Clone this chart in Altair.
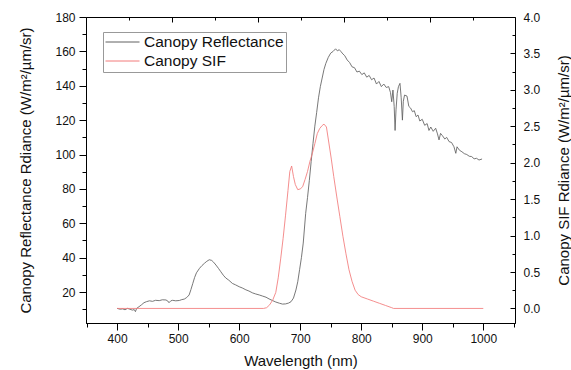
import altair as alt
import pandas as pd

# ---------------- data ----------------
refl_nm = [400, 405, 409, 413, 417, 421, 425, 428, 430, 432, 436, 440, 444, 448, 453, 458, 463, 469, 474, 480,
           483, 485, 488, 491, 496, 502, 506, 510, 514, 518, 521, 524, 527, 530, 535, 539, 543, 547, 551, 555,
           558, 562, 566, 570, 574, 578, 583, 589, 594, 600, 605, 611, 616, 622, 627, 633, 638, 644, 649, 655,
           660, 666, 671, 676, 681, 685, 689, 693, 696, 699, 702, 705, 709, 712, 715, 718, 721, 724, 727, 730,
           733, 736, 739, 742, 746, 750, 754, 758, 761, 764, 767, 770, 773, 777, 781, 785, 789, 793, 797, 801,
           805, 809, 813, 817, 821, 825, 829, 833, 837, 841, 845, 848, 850, 852, 854, 855.5, 857, 859, 861, 863.5,
           865.5, 867.5, 869, 871, 875, 878, 881, 884, 887, 890, 893, 896, 900, 904, 908, 911, 914, 918, 922, 925,
           927.5, 930, 933, 937, 940, 944, 948, 952, 955, 957, 961, 965, 969, 973, 977, 981, 985, 989, 993, 998]
refl_val = [10.5, 10.0, 10.2, 9.7, 10.5, 10.0, 9.5, 9.8, 8.6, 10.5, 11.5, 12.6, 13.8, 14.4, 14.9, 14.6, 15.2, 15.0, 15.5, 15.4,
            14.8, 13.8, 14.9, 15.2, 14.9, 15.1, 15.6, 15.9, 16.8, 18.3, 21.5, 25.0, 28.5, 31.2, 33.8, 35.4, 36.7, 37.9, 38.8, 38.4,
            37.4, 35.7, 33.8, 31.8, 29.8, 28.2, 26.9, 25.0, 24.2, 23.1, 22.4, 21.3, 20.6, 19.5, 18.9, 18.3, 17.7, 17.0, 16.0, 15.0,
            14.2, 13.5, 13.0, 13.1, 13.6, 14.4, 16.5, 21.2, 26.0, 33.0, 40.0, 48.5, 65.8, 75.0, 85.0, 96.0, 106.5, 116.5, 124.5, 133.0,
            139.5, 144.5, 149.5, 153.0, 156.5, 159.0, 160.0, 161.5, 160.3, 161.0, 159.8, 158.5, 157.5, 155.0, 153.5, 151.0, 150.5, 148.0, 148.5, 146.5,
            147.5, 145.0, 146.0, 143.5, 144.5, 141.0, 142.5, 139.5, 141.0, 139.0, 139.5, 136.0, 130.7, 137.5, 128.0, 114.0, 126.0, 135.6, 139.5, 141.4,
            133.0, 120.0, 131.0, 134.6, 134.0, 128.0, 127.0, 124.9, 125.5, 122.0, 123.0, 119.5, 120.5, 117.0, 118.0, 114.0, 116.0, 113.5, 115.3, 112.0,
            108.5, 112.3, 111.0, 109.0, 110.0, 107.5, 107.0, 104.5, 100.7, 104.5, 102.5, 101.6, 100.5, 100.0, 99.0, 98.8, 97.5, 97.8, 96.8, 97.4]

sif_nm = [400, 640, 645, 650, 655, 660, 664, 668, 672, 676, 680, 683, 686, 689, 692, 696, 700, 704, 708, 712,
          716, 720, 724, 728, 732, 736, 739, 743, 747, 751, 755, 760, 765, 770, 775, 780, 785, 790, 795, 800,
          810, 820, 830, 840, 850, 853, 1000]
sif_val = [0.0, 0.0, 0.01, 0.05, 0.115, 0.22, 0.42, 0.68, 0.96, 1.28, 1.62, 1.88, 1.955, 1.81, 1.70, 1.63, 1.64, 1.67, 1.77, 1.88,
           2.02, 2.13, 2.26, 2.40, 2.47, 2.51, 2.53, 2.49, 2.27, 2.05, 1.81, 1.53, 1.26, 0.99, 0.75, 0.53, 0.37, 0.25, 0.19, 0.16,
           0.13, 0.10, 0.07, 0.04, 0.01, 0.0, 0.0]

series_names = ["Canopy Reflectance", "Canopy SIF"]
series_colors = ["#606060", "#f27a7a"]

x_major = [400, 500, 600, 700, 800, 900, 1000]
x_minor = [350, 450, 550, 650, 750, 850, 950, 1050]
top_major = [490.4, 631.2, 772, 912.8]
top_minor = [420, 560.8, 701.6, 842.4, 983.2]
left_major = [20, 40, 60, 80, 100, 120, 140, 160, 180]
left_minor = [10, 30, 50, 70, 90, 110, 130, 150, 170]
right_major = [0.0, 0.5, 1.0, 1.5, 2.0, 2.5, 3.0, 3.5, 4.0]
right_minor = [0.25, 0.75, 1.25, 1.75, 2.25, 2.75, 3.25, 3.75]

refl = pd.DataFrame({"nm": refl_nm, "v": refl_val, "series": series_names[0]})
sif = pd.DataFrame({"nm": sif_nm, "v": sif_val, "series": series_names[1]})

FONT = "Liberation Sans"
W, H = 429, 306

xs = alt.Scale(domain=[349, 1052], nice=False, zero=False)
ls = alt.Scale(domain=[2, 180], nice=False, zero=False)
rs = alt.Scale(domain=[-0.2, 4.0], nice=False, zero=False)

color = alt.Color(
    "series:N",
    scale=alt.Scale(domain=series_names, range=series_colors),
    legend=alt.Legend(
        orient="none", legendX=17, legendY=15, title=None,
        symbolType="stroke", symbolSize=1156, symbolStrokeWidth=1,
        clipHeight=16, rowPadding=2, padding=2, labelOffset=4,
        labelFont=FONT, labelFontSize=15.5, labelColor="#111",
        strokeColor="#999", fillColor="white",
    ),
)

base_axis = dict(domainColor="#000", tickColor="#000", labelFont=FONT, labelColor="#111",
                 titleFont=FONT, titleColor="#111", titleFontWeight="normal", grid=False)

# Layer 1: reflectance line, bottom major axis + left major axis
l1 = alt.Chart(refl).mark_line(strokeWidth=0.85).encode(
    x=alt.X("nm:Q", scale=xs, axis=alt.Axis(
        orient="bottom", values=x_major, format="d", tickSize=7, labelFontSize=12, labelPadding=3,
        title="Wavelength (nm)", titleFontSize=15, titleX=W / 2, titleY=37,
        titleAlign="center", titleBaseline="middle", **base_axis)),
    y=alt.Y("v:Q", scale=ls, axis=alt.Axis(
        orient="left", values=left_major, format="d", tickSize=7, labelFontSize=12, labelPadding=4,
        title="Canopy Reflectance Rdiance (W/m²/µm/sr)", titleFontSize=15,
        titleX=-61, titleY=H / 2, titleAngle=270, titleAlign="center", titleBaseline="middle",
        **base_axis)),
    color=color,
)

# Layer 2: SIF line, bottom minor ticks + right major axis (inward ticks)
l2 = alt.Chart(sif).mark_line(strokeWidth=0.85).encode(
    x=alt.X("nm:Q", scale=xs, axis=alt.Axis(
        orient="bottom", values=x_minor, tickSize=4, labels=False, domain=False,
        title=None, tickColor="#000", grid=False)),
    y=alt.Y("v:Q", scale=rs, axis=alt.Axis(
        orient="right", values=right_major, offset=-5, tickSize=5, domain=False,
        format=".1f", labelFontSize=12, labelPadding=8,
        title="Canopy SIF Rdiance (W/m²/µm/sr)", titleFontSize=15,
        titleX=53, titleY=H / 2, titleAngle=270, titleAlign="center", titleBaseline="middle",
        **{k: v for k, v in base_axis.items() if k != "domainColor"})),
    color=color,
)

# Layer 3: invisible, top major inward ticks + left minor ticks
l3 = alt.Chart(refl).mark_line(opacity=0).encode(
    x=alt.X("nm:Q", scale=xs, axis=alt.Axis(
        orient="top", values=top_major, offset=-5, tickSize=5, labels=False, domain=False,
        title=None, tickColor="#000", grid=False)),
    y=alt.Y("v:Q", scale=ls, axis=alt.Axis(
        orient="left", values=left_minor, tickSize=4, labels=False, domain=False,
        title=None, tickColor="#000", grid=False)),
)

# Layer 4: invisible, top minor inward ticks + right minor inward ticks
l4 = alt.Chart(sif).mark_line(opacity=0).encode(
    x=alt.X("nm:Q", scale=xs, axis=alt.Axis(
        orient="top", values=top_minor, offset=-3, tickSize=3, labels=False, domain=False,
        title=None, tickColor="#000", grid=False)),
    y=alt.Y("v:Q", scale=rs, axis=alt.Axis(
        orient="right", values=right_minor, offset=-3, tickSize=3, labels=False, domain=False,
        title=None, tickColor="#000", grid=False)),
)

chart = alt.layer(l1, l2, l3, l4).resolve_scale(
    y="independent"
).resolve_axis(
    x="independent", y="independent"
).properties(
    width=W, height=H,
    autosize=alt.AutoSizeParams(type="none"),
    padding={"left": 86, "top": 17, "right": 56, "bottom": 47},
    background="white",
).configure_view(
    stroke="#000", strokeWidth=1
)

chart.save("out.html", embed_options={"renderer": "svg", "actions": False})
